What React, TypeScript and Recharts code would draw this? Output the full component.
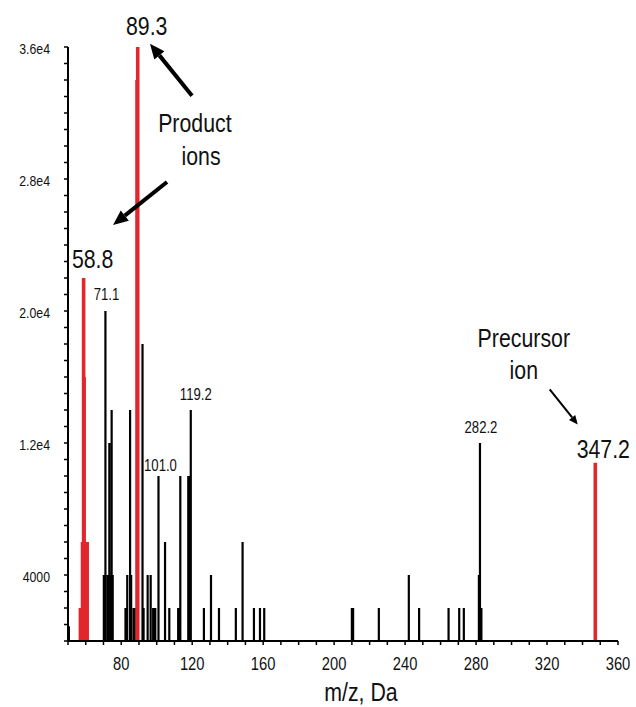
import { ComposedChart, Line, XAxis, YAxis, ReferenceDot, ReferenceLine } from "recharts"

// product-ion spectrum, black sticks
const blackMz = [
	50.5, 70.2, 71.1, 72.4, 73.3, 74.0, 74.6, 75.2, 82.4, 83.4, 85.0, 85.6, 87.0, 88.0,
	92.0, 92.6, 94.9, 96.6, 98.0, 99.2, 101.0, 104.7, 107.1, 112.1, 113.3, 117.8, 118.5,
	119.2, 126.6, 130.6, 135.1, 144.6, 148.4, 154.8, 158.2, 160.6, 210.0, 210.7, 225.2,
	242.1, 247.9, 264.5, 270.5, 273.1, 281.6, 282.2, 283.0,
]
const blackIntensity = [
	900, 4000, 20000, 4000, 12000, 4000, 14000, 4000, 2000, 4000, 14000, 4000, 2000, 2000,
	18000, 2000, 4000, 4000, 2000, 2000, 10000, 6000, 2000, 2000, 10000, 10000, 10000,
	14000, 2000, 4000, 2000, 2000, 6000, 2000, 2000, 2000, 2000, 2000, 2000,
	4000, 2000, 2000, 2000, 2000, 4000, 12000, 2000,
]

// highlighted ions (red)
const redMz = [57.0, 58.2, 58.8, 59.1, 59.8, 60.8, 88.9, 89.3, 347.2]
const redIntensity = [2000, 6000, 22000, 16000, 6000, 6000, 34000, 36000, 10800]

const xTicks = [
	50, 60, 70, 80, 90, 100, 110, 120, 130, 140, 150, 160, 170, 180, 190, 200, 210,
	220, 230, 240, 250, 260, 270, 280, 290, 300, 310, 320, 330, 340, 350, 360,
]
const xLabelValues = [80, 120, 160, 200, 240, 280, 320, 360]
const yTicks = [
	0, 1000, 2000, 3000, 4000, 5000, 6000, 7000, 8000, 9000, 10000, 11000, 12000, 13000,
	14000, 15000, 16000, 17000, 18000, 19000, 20000, 21000, 22000, 23000, 24000, 25000,
	26000, 27000, 28000, 29000, 30000, 31000, 32000, 33000, 34000, 35000, 36000,
]
const yLabelValues = [4000, 12000, 20000, 28000, 36000]
const yLabelText = ["4000", "1.2e4", "2.0e4", "2.8e4", "3.6e4"]

const peakLabels = ["89.3", "58.8", "71.1", "119.2", "101.0", "282.2", "347.2"]

const FONT = "'Liberation Sans', Arial, sans-serif"
const RED = "#e3262b"
const SQUEEZE = 0.82 // the original uses a condensed face

// label placement relative to the top of its peak (px)
const peakLabelLayout: Record<string, { dx: number; dy: number; size: number }> = {
	"89.3": { dx: 9, dy: -12, size: 26 },
	"58.8": { dx: 9, dy: -10, size: 26 },
	"71.1": { dx: 1, dy: -11, size: 16 },
	"119.2": { dx: 5, dy: -10, size: 16 },
	"101.0": { dx: 2, dy: -5, size: 16 },
	"282.2": { dx: 1, dy: -10, size: 16 },
	"347.2": { dx: 8, dy: -5, size: 26 },
}

function sticks(mz: number[], intensity: number[]) {
	return mz.flatMap((m, k) => [
		{ mz: m, i: 0 },
		{ mz: m, i: intensity[k] },
		{ mz: m, i: null },
	])
}

function intensityOf(mz: number) {
	const r = redMz.indexOf(mz)
	if (r >= 0) return redIntensity[r]
	return blackIntensity[blackMz.indexOf(mz)]
}

function NarrowText({ x, y, size, anchor = "middle", children }: any) {
	return (
		<text
			transform={`translate(${x} ${y}) scale(${SQUEEZE} 1)`}
			textAnchor={anchor}
			fontSize={size}
			fontFamily={FONT}
			fill="#111"
		>
			{children}
		</text>
	)
}

function XTick(props: any) {
	const { x, y, payload } = props
	if (!xLabelValues.includes(payload.value)) return null
	return (
		<NarrowText x={x} y={y + 13} size={18}>
			{payload.value}
		</NarrowText>
	)
}

function YTick(props: any) {
	const { x, y, payload } = props
	const k = yLabelValues.indexOf(payload.value)
	if (k < 0) return null
	return (
		<NarrowText x={x} y={y + 6.5} size={15} anchor="end">
			{yLabelText[k]}
		</NarrowText>
	)
}

function note(text: string, size: number, dx = 0, dy = 0) {
	return (p: any) => (
		<NarrowText x={p.cx + dx} y={p.cy + dy} size={size}>
			{text}
		</NarrowText>
	)
}

function arrow(width: number, head: number, headW: number) {
	return (p: any) => {
		const { x1, y1, x2, y2 } = p
		const len = Math.hypot(x2 - x1, y2 - y1) || 1
		const ux = (x2 - x1) / len
		const uy = (y2 - y1) / len
		const bx = x2 - ux * head
		const by = y2 - uy * head
		const px = -uy * headW
		const py = ux * headW
		return (
			<g>
				<line x1={x1} y1={y1} x2={bx} y2={by} stroke="#000" strokeWidth={width} />
				<polygon points={`${x2},${y2} ${bx + px},${by + py} ${bx - px},${by - py}`} fill="#000" />
			</g>
		)
	}
}

export default function App() {
	const black = sticks(blackMz, blackIntensity)
	const red = sticks(redMz, redIntensity)

	return (
		<>
			<style>{`html, body { margin: 0; padding: 0; overflow: hidden; } svg { overflow: visible; }`}</style>
			<ComposedChart width={636} height={707} margin={{ top: 47, right: 18, bottom: 26, left: 0 }}>
				<XAxis
					type="number"
					dataKey="mz"
					domain={[50, 360]}
					ticks={xTicks}
					interval={0}
					allowDataOverflow
					height={40}
					tickSize={4}
					tickMargin={12}
					tick={<XTick />}
					axisLine={{ stroke: "#000", strokeWidth: 2 }}
					tickLine={{ stroke: "#000", strokeWidth: 1.5 }}
					label={{
						position: "bottom",
						content: (p: any) => (
							<NarrowText x={p.viewBox.x + p.viewBox.width / 2 + 18} y={p.viewBox.y + 60} size={26}>
								m/z, Da
							</NarrowText>
						),
					}}
				/>
				<YAxis
					type="number"
					domain={[0, 36000]}
					ticks={yTicks}
					interval={0}
					width={68}
					tickSize={4}
					tickMargin={14}
					tick={<YTick />}
					axisLine={{ stroke: "#000", strokeWidth: 2 }}
					tickLine={{ stroke: "#000", strokeWidth: 1.5 }}
				/>
				<Line
					data={black}
					dataKey="i"
					type="linear"
					stroke="#000"
					strokeWidth={2.2}
					dot={false}
					activeDot={false}
					connectNulls={false}
					isAnimationActive={false}
				/>
				<Line
					data={red}
					dataKey="i"
					type="linear"
					stroke={RED}
					strokeWidth={3.6}
					dot={false}
					activeDot={false}
					connectNulls={false}
					isAnimationActive={false}
				/>

				{peakLabels.map((t) => {
					const m = parseFloat(t)
					const l = peakLabelLayout[t]
					return (
						<ReferenceDot
							key={t}
							x={m}
							y={intensityOf(m)}
							r={0}
							ifOverflow="visible"
							shape={note(t, l.size, l.dx, l.dy)}
						/>
					)
				})}

				<ReferenceDot x={121.5} y={30860} r={0} ifOverflow="visible" shape={note("Product", 26)} />
				<ReferenceDot x={125} y={28850} r={0} ifOverflow="visible" shape={note("ions", 26)} />
				<ReferenceDot x={306.9} y={17800} r={0} ifOverflow="visible" shape={note("Precursor", 26)} />
				<ReferenceDot x={306.9} y={15850} r={0} ifOverflow="visible" shape={note("ion", 26)} />

				<ReferenceLine
					segment={[{ x: 119.9, y: 33040 }, { x: 96.2, y: 36200 }]}
					ifOverflow="visible"
					shape={arrow(4, 15, 6.5)}
				/>
				<ReferenceLine
					segment={[{ x: 105.8, y: 27820 }, { x: 75.4, y: 25210 }]}
					ifOverflow="visible"
					shape={arrow(4, 15, 6.5)}
				/>
				<ReferenceLine
					segment={[{ x: 321.5, y: 15250 }, { x: 337.3, y: 13120 }]}
					ifOverflow="visible"
					shape={arrow(2, 9, 4)}
				/>
			</ComposedChart>
		</>
	)
}
